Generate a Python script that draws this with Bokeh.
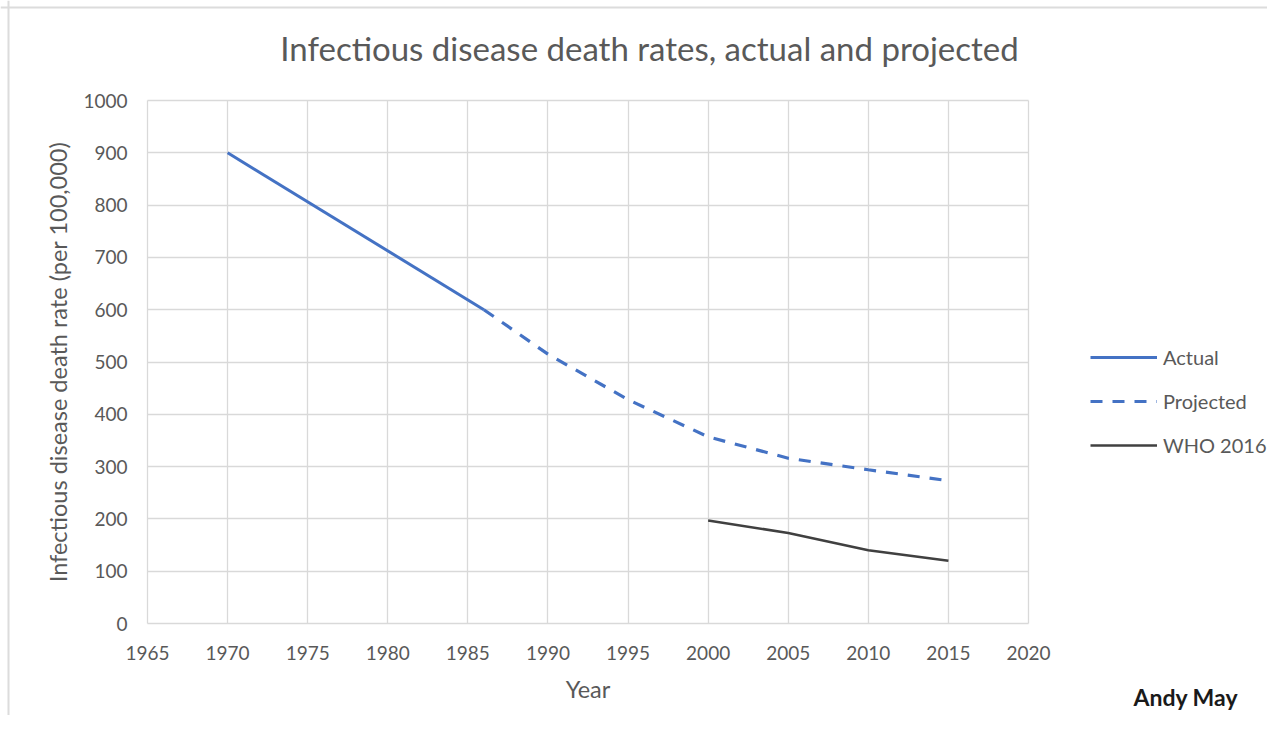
from bokeh.plotting import figure
from bokeh.models import Range1d, Legend, LegendItem, Label, FixedTicker, Span
from bokeh.embed import file_html
from bokeh.resources import INLINE

# Data
actual_years = [1970, 1986]
actual_rate = [900, 600]
proj_years = [1986, 1990, 1995, 2000, 2005, 2010, 2015]
proj_rate = [600, 515, 428, 357, 316, 294, 273]
who_years = [2000, 2005, 2010, 2015]
who_rate = [197, 173, 140, 120]
x_ticks = [1965, 1970, 1975, 1980, 1985, 1990, 1995, 2000, 2005, 2010, 2015, 2020]
y_ticks = [0, 100, 200, 300, 400, 500, 600, 700, 800, 900, 1000]

FONT = "Lato"
GREY = "#595959"
GRID = "#d9d9d9"

# Layout (pixels): plot box 1965..2020 x 0..1000 occupies 881 x 523 px,
# its top-left corner at (147, 100) on a 1267 x 715 canvas
W, H = 1267, 715
BOX_L, BOX_T, BOX_B = 147, 100, 623
PXY = 881 / 55.0
PXV = 523 / 1000.0


def dx(px):
    return 1965 + (px - BOX_L) / PXY


def dy(py):
    return (BOX_B - py) / PXV


p = figure(width=W, height=H, output_backend="svg", toolbar_location=None,
           x_range=Range1d(dx(0), dx(W)), y_range=Range1d(dy(H), dy(0)),
           min_border_left=0, min_border_right=0, min_border_top=0, min_border_bottom=0)
p.background_fill_color = "white"
p.border_fill_color = "white"
p.outline_line_color = None

# chart-area border (top and left edges visible in the reference)
p.add_layout(Span(location=dx(8), dimension="height", line_color="#dcdcdc", line_width=2))
p.add_layout(Span(location=dy(7), dimension="width", line_color="#dcdcdc", line_width=2))

for ax in (p.xaxis[0], p.yaxis[0]):
    ax.axis_line_color = None
    ax.major_tick_line_color = None
    ax.minor_tick_line_color = None
    ax.major_label_text_color = GREY
    ax.major_label_text_font = FONT
    ax.major_label_text_font_size = "19px"
    ax.axis_label_text_color = GREY
    ax.axis_label_text_font = FONT
    ax.axis_label_text_font_size = "23.5px"
    ax.axis_label_text_font_style = "normal"

xa, ya = p.xaxis[0], p.yaxis[0]
xa.ticker = FixedTicker(ticks=x_ticks)
ya.ticker = FixedTicker(ticks=y_ticks)
xa.bounds = (1965, 2020)
ya.bounds = (0, 1000)
xa.fixed_location = 0
ya.fixed_location = 1965
xa.major_label_standoff = 16
ya.major_label_standoff = 14
xa.axis_label = "Year"
xa.axis_label_standoff = 12
ya.axis_label = "Infectious disease death rate (per 100,000)"
ya.axis_label_standoff = 8

p.xgrid[0].ticker = FixedTicker(ticks=x_ticks)
p.ygrid[0].ticker = FixedTicker(ticks=y_ticks)
p.xgrid[0].cross_bounds = (0, 1000)
p.ygrid[0].cross_bounds = (1965, 2020)
p.xgrid.grid_line_color = GRID
p.ygrid.grid_line_color = GRID
p.xgrid.grid_line_width = 1.3
p.ygrid.grid_line_width = 1.3

r1 = p.line(actual_years, actual_rate, line_color="#4472C4", line_width=3)
r2 = p.line(proj_years, proj_rate, line_color="#4472C4", line_width=3.2, line_dash="12 10")
r3 = p.line(who_years, who_rate, line_color="#404040", line_width=2.6)

legend = Legend(items=[LegendItem(label="Actual", renderers=[r1]),
                       LegendItem(label="Projected", renderers=[r2]),
                       LegendItem(label="WHO 2016", renderers=[r3])],
                location=(1090, H - 457), orientation="vertical",
                glyph_width=67, glyph_height=22, label_height=22, label_standoff=6,
                spacing=20, padding=0, margin=0,
                border_line_color=None, background_fill_alpha=0,
                label_text_font=FONT, label_text_font_size="20px", label_text_color=GREY)
p.add_layout(legend, "center")

title = Label(x=dx(649), y=dy(47), text="Infectious disease death rates, actual and projected",
              text_align="center", text_baseline="alphabetic", text_font=FONT,
              text_font_size="33px", text_color=GREY)
p.add_layout(title)

author = Label(x=dx(1133), y=dy(696), text="Andy May", text_align="left",
               text_baseline="alphabetic", text_font=FONT, text_font_size="23px",
               text_color="#1a1a1a", text_font_style="bold")
p.add_layout(author)

open("out.html", "w").write(file_html(p, INLINE))
